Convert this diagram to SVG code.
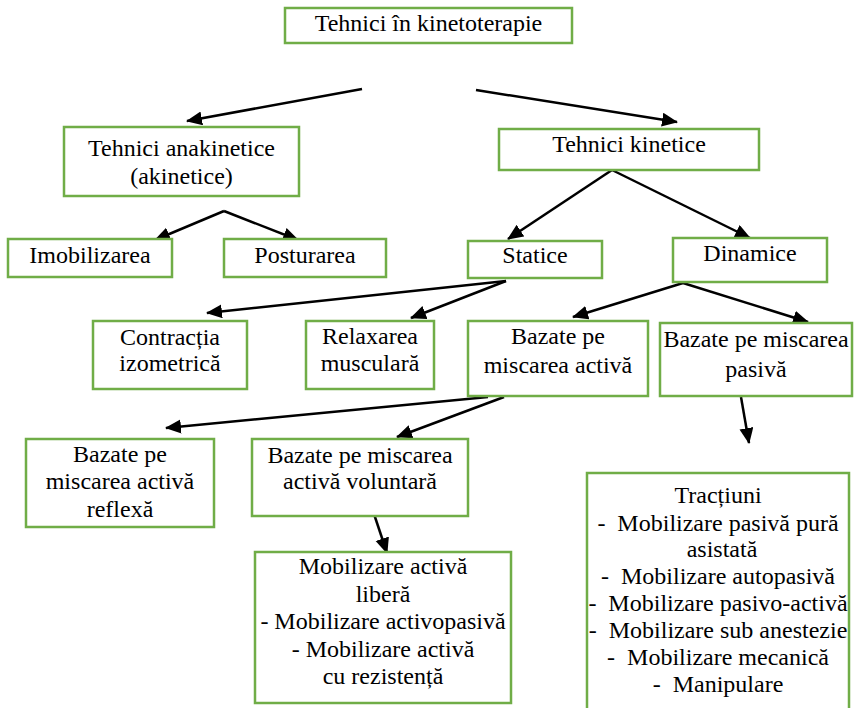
<svg xmlns="http://www.w3.org/2000/svg" width="855" height="708" viewBox="0 0 855 708">
<defs>
<marker id="ah" markerUnits="userSpaceOnUse" markerWidth="17" markerHeight="15" refX="15" refY="7" orient="auto">
<path d="M0,0 L16,7 L0,14 z" fill="#000"/>
</marker>
<style>
.box{fill:#fff;stroke:#70AD47;stroke-width:2.5}
.t{font-family:"Liberation Serif","Times New Roman",serif;font-size:24px;fill:#000;text-anchor:middle}
.c line{stroke:#000;stroke-width:2.5;marker-end:url(#ah)}
</style>
</defs>
<rect width="855" height="708" fill="#fff"/>
<g id="connectors" class="c">
<line x1="362" y1="89" x2="187" y2="121"/>
<line x1="476" y1="90" x2="677" y2="122"/>
<line x1="224" y1="211" x2="155" y2="240"/>
<line x1="224" y1="211" x2="298" y2="240"/>
<line x1="612" y1="170" x2="508" y2="239"/>
<line x1="612" y1="170" x2="750" y2="238"/>
<line x1="506" y1="281" x2="207" y2="313"/>
<line x1="506" y1="281" x2="411" y2="318"/>
<line x1="683" y1="283" x2="573" y2="317"/>
<line x1="683" y1="283" x2="808" y2="322"/>
<line x1="741" y1="397" x2="749" y2="443"/>
<line x1="488" y1="397" x2="166" y2="428"/>
<line x1="504" y1="397" x2="397" y2="437"/>
<line x1="374" y1="514" x2="387" y2="553"/>
</g>
<g id="n-root"><rect class="box" x="285" y="8" width="287" height="35"/><text class="t" x="428.5" y="31">Tehnici în kinetoterapie</text></g>
<g id="n-anakinetice"><rect class="box" x="64" y="127" width="235" height="69"/><text class="t" x="181.5" y="156">Tehnici anakinetice</text><text class="t" x="181.5" y="184">(akinetice)</text></g>
<g id="n-kinetice"><rect class="box" x="499" y="129" width="260" height="41"/><text class="t" x="629" y="152">Tehnici kinetice</text></g>
<g id="n-imobilizarea"><rect class="box" x="8" y="239" width="164" height="38"/><text class="t" x="90" y="263">Imobilizarea</text></g>
<g id="n-posturarea"><rect class="box" x="224" y="239" width="162" height="38"/><text class="t" x="305" y="263">Posturarea</text></g>
<g id="n-statice"><rect class="box" x="468" y="241" width="134" height="37"/><text class="t" x="535" y="263">Statice</text></g>
<g id="n-dinamice"><rect class="box" x="673" y="238" width="154" height="44"/><text class="t" x="750" y="261">Dinamice</text></g>
<g id="n-contractia"><rect class="box" x="93" y="321" width="154" height="68"/><text class="t" x="170" y="345">Contracția</text><text class="t" x="170" y="371">izometrică</text></g>
<g id="n-relaxarea"><rect class="box" x="306" y="321" width="128" height="68"/><text class="t" x="370" y="344">Relaxarea</text><text class="t" x="370" y="371">musculară</text></g>
<g id="n-activa"><rect class="box" x="468" y="321" width="180" height="75"/><text class="t" x="558" y="344">Bazate pe</text><text class="t" x="558" y="373">miscarea activă</text></g>
<g id="n-pasiva"><rect class="box" x="660" y="323" width="192" height="73"/><text class="t" x="756" y="347">Bazate pe miscarea</text><text class="t" x="756" y="377">pasivă</text></g>
<g id="n-reflexa"><rect class="box" x="26" y="439" width="188" height="88"/><text class="t" x="120" y="462">Bazate pe</text><text class="t" x="120" y="489">miscarea activă</text><text class="t" x="120" y="517">reflexă</text></g>
<g id="n-voluntara"><rect class="box" x="252" y="439" width="216" height="77"/><text class="t" x="360" y="463">Bazate pe miscarea</text><text class="t" x="360" y="489">activă voluntară</text></g>
<g id="n-mobilizare-activa"><rect class="box" x="255" y="552" width="256" height="151"/>
<text class="t" x="383" y="574">Mobilizare activă</text>
<text class="t" x="383" y="602">liberă</text>
<text class="t" x="383" y="629">- Mobilizare activopasivă</text>
<text class="t" x="383" y="657">- Mobilizare activă</text>
<text class="t" x="383" y="684">cu rezistență</text></g>
<g id="n-tractiuni"><rect class="box" x="587" y="473" width="262" height="250"/>
<text class="t" x="718" y="503">Tracțiuni</text>
<text class="t" x="718" y="531" xml:space="preserve">-  Mobilizare pasivă pură</text>
<text class="t" x="722" y="557">asistată</text>
<text class="t" x="718" y="584" xml:space="preserve">-  Mobilizare autopasivă</text>
<text class="t" x="718" y="611" xml:space="preserve">-  Mobilizare pasivo-activă</text>
<text class="t" x="718" y="638" xml:space="preserve">-  Mobilizare sub anestezie</text>
<text class="t" x="718" y="665" xml:space="preserve">-  Mobilizare mecanică</text>
<text class="t" x="718" y="692" xml:space="preserve">-  Manipulare</text></g>
</svg>
